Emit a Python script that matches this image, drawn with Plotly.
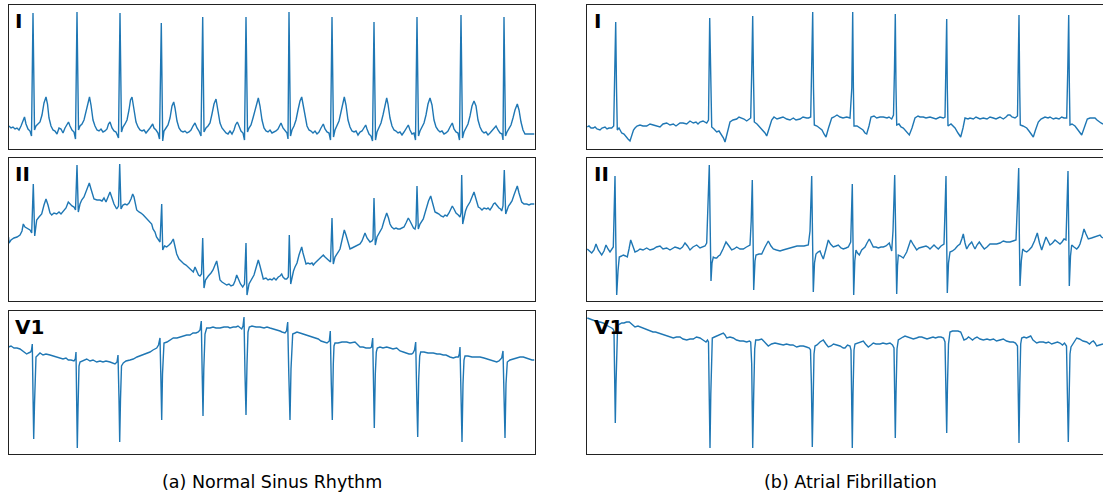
import plotly.graph_objects as go

# ECG excerpts: (sample index, amplitude in units of 10 uV)
nsr_I = [(9,22),(11,20),(13,21),(15,19),(17,20),(19,18),(21,22),(23,28),(24.5,31),(26,24),(28,19),(30,17),(31.5,12),(33,135),(34.5,18),(36,22),(38,24),(40,26),(42,33),(44,45),(46,51),(47.5,44),(49,30),(51,22),(53,18),(55,17),(57,14),(59,20),(61,19),(63,15),(65,20),(67,24),(68.5,26),(70,22),(72,18),(74,16),(75.5,9),(77,136),(78.5,18),(80,22),(82,24),(84,28),(86,36),(88,46),(89.5,51),(91,43),(93,28),(95,22),(97,18),(99,17),(101,19),(103,16),(105,17),(107,19),(108.5,24),(110,26),(112,20),(114,17),(116,16),(118.5,10),(120,135),(121.5,16),(123,21),(125,24),(127,28),(129,38),(130.5,48),(132,51),(134,40),(136,26),(138,21),(140,18),(142,17),(144,18),(146,15),(148,17),(150,20),(152.7,24),(154,20),(156,18),(158,15),(159.5,9),(161.3,125),(162.7,7),(164,17),(166,20),(168,23),(170,30),(172,42),(173.7,46),(175,40),(177,27),(179,20),(181,17),(183,16),(185,17),(187,15),(189,16),(191,18),(193,22),(195,25),(197,20),(199,17),(201,12),(202.7,131),(204,16),(206,20),(208,22),(210,25),(212,34),(214,44),(216,49),(218,38),(220,25),(222,20),(224,17),(226,15),(228,14),(230,17),(232,14),(234,18),(235.5,23),(237.3,26),(239,22),(241,17),(243,15),(244.5,8),(246,131),(247.5,16),(249,20),(251,23),(253,30),(255,38),(257,46),(258.3,50),(260,42),(262,28),(264,20),(266,17),(268,16),(270,18),(272,15),(274,16),(276,17),(278,19),(279.5,23),(281,25),(283,20),(285,17),(287,15),(288,9),(289,136),(290.5,12),(292,18),(294,22),(296,28),(298,38),(300,47),(301.7,51),(303,44),(305,30),(307,22),(309,18),(311,17),(313,15),(315,17),(317,14),(319,16),(321,20),(323.3,24),(325,19),(327,16),(329,15),(330.5,8),(332,131),(333.5,11),(335,18),(337,22),(339,27),(341,36),(343,46),(344.3,51),(346,43),(348,28),(350,21),(352,17),(354,16),(356,17),(358,13),(360,16),(362,17),(364,21),(365.7,23),(367,19),(369,14),(371,12),(372.5,7),(374,126),(375.5,8),(377,16),(379,20),(381,25),(383,33),(385,44),(386.7,50),(388,44),(390,30),(392,22),(394,18),(396,17),(398,15),(400,16),(402,13),(404,16),(406,19),(408.3,23),(410,18),(412,14),(414,15),(415.5,8),(417,131),(418.5,12),(420,17),(422,21),(424,25),(426,33),(428,44),(430,50),(432,43),(434,28),(436,21),(438,18),(440,16),(442,17),(444,14),(446,15),(448,17),(450,21),(452.3,25),(454,19),(456,16),(458,15),(459.5,8),(461,133),(462.5,10),(464,16),(466,20),(468,24),(470,32),(472,42),(474,47),(476,42),(478,28),(480,21),(482,17),(484,15),(486,16),(488,13),(490,15),(492,17),(494,19),(496,22),(498,18),(500,15),(502,14),(503,8),(504,131),(505.5,12),(507,16),(509,19),(511,23),(513,30),(515,38),(517.3,44),(519,38),(521,26),(523,18),(525,14),(528,14),(531,14),(534.5,14)]

nsr_II = [(8.5,64),(9,58),(11,61),(14,63),(17,64),(20,66),(22,70),(23.3,77),(25,74),(28,72),(30,71),(31.7,68),(33.3,117),(34.7,65),(36.7,81),(39,84),(41.7,87),(44,96),(46,102),(48,96),(50,88),(51.7,86),(54,88),(56.7,87),(59,89),(61,87),(63.3,90),(66,93),(68.3,99),(70,97),(72,95),(74,94),(75.5,91),(77,136),(78.3,89),(80,97),(81.7,101),(84,104),(86.5,110),(89.3,118),(91,112),(92.5,106),(94,102),(97,101),(100,101),(102,100),(104,103),(106,99),(108,104),(110,109),(112,103),(114,97),(116.7,92),(118.5,95),(119.7,137),(121,92),(123,96),(125,97),(127,96),(129,98),(131,102),(132.7,107),(134,104),(135.5,97),(136.7,91),(139,89),(141,88),(143.3,86),(146,83),(148,80),(150,78),(151.7,77),(153,72),(155,69),(156.5,64),(158.3,61),(160,59),(161.7,97),(162.7,51),(164.5,55),(166.7,54),(169,56),(171,58),(173.3,62),(175,55),(176.7,47),(179,42),(181.7,39),(184,37),(186,36),(188.3,34),(190,32),(192,30),(193.3,29),(195,34),(197,30),(198.5,26),(200,25),(201.5,27),(202.7,63),(204,13),(205.5,21),(207,24),(208.3,25),(211,28),(213,31),(215,36),(216.7,40),(218,33),(220,21),(222,19),(224,18),(226.7,16),(229,17),(231,15),(233.3,16),(235,20),(236.7,26),(238.5,21),(240.5,17),(242.7,14),(244.5,17),(246,58),(247,6),(249,17),(251.7,22),(254,26),(256,33),(258.3,41),(260,35),(261.5,28),(263.3,22),(266,23),(268,21),(270,22),(272,21),(274,23),(276,21),(278.3,24),(280,25),(281.7,27),(283,24),(285,22),(286.7,22),(288.3,24),(289.3,66),(290.7,17),(292,25),(293.5,30),(295,34),(297,38),(299,46),(301.7,54),(303,48),(304.5,42),(306,37),(308,38),(310,37),(312,38),(313.3,36),(315,38),(317,40),(319,41),(320,42),(321.5,44),(323.3,46),(325,44),(327,42),(329,40),(330.5,39),(332,83),(333.3,37),(335,44),(336.5,46),(338.3,49),(340,52),(342,60),(344.3,71),(346,66),(348,58),(350,52),(352,53),(354,54),(356,55),(358.3,56),(360,57),(362,60),(363.5,65),(365,68),(367,63),(368.5,61),(370,59),(372,60),(373,62),(374,103),(375.3,56),(377,64),(378.5,67),(380,69),(382,73),(384,80),(386.7,88),(388.5,83),(390,77),(391.7,74),(394,72),(396,73),(398,72),(400,72),(402,73),(404,74),(406,78),(408.3,83),(410,80),(412,75),(413.5,73),(415,72),(416,76),(417,115),(418.3,72),(420,77),(421.5,80),(423.3,82),(425,88),(427,95),(428.5,100),(430.7,105),(432,100),(433.5,93),(435,89),(437,88),(439,87),(441,85),(443.3,84),(445,86),(447,85),(449,88),(450.5,92),(452.3,95),(454,92),(456,88),(458.3,86),(460,84),(461,88),(461.7,126),(462.7,77),(464,85),(465.5,90),(467,94),(468.3,96),(470,99),(472,104),(474,109),(476,102),(477,97),(478.3,94),(480,93),(482,91),(484,93),(486.7,92),(488,93),(490,91),(492,94),(493.5,97),(495,98),(497,95),(499,93),(500.5,92),(501.7,90),(503,95),(504.3,131),(505.7,87),(507,91),(508.5,95),(510,97),(512,100),(514,106),(515.5,111),(517.3,115),(519,108),(520.5,102),(521.7,99),(524,97),(526.7,97),(529,96),(531,97),(533,97),(534.5,97)]

nsr_V1 = [(8.5,107),(11,108),(14,106),(17,106),(20,105),(23,103),(25,101),(26.7,100),(28.5,101),(30.7,102),(31.5,104),(32.3,110),(33,60),(33.7,15),(34.5,50),(35.3,90),(36,97),(38,99),(40,101),(43,99),(46,100),(50,99),(53,98),(56,97),(60,96),(63,95),(66,96),(68.3,94),(71,94),(74,93),(75.3,95),(76,102),(76.7,50),(77.3,6),(78,45),(79,88),(80,92),(83,93),(86.7,95),(90,93),(93,94),(96.7,92),(100,93),(103,92),(106,93),(110,92),(113,91),(115,90),(117,92),(118,99),(119,55),(119.7,12),(120.5,55),(121.5,88),(123.3,91),(126,93),(130,94),(133.3,95),(137,97),(140,98),(143,99),(146.7,101),(150,102),(153,104),(156.7,106),(158.5,109),(160,116),(161,70),(161.7,34),(162.5,80),(163.2,105),(164,111),(167,112),(170,114),(173.3,116),(177,116),(180,117),(183,118),(186.7,119),(190,119),(193,121),(196,121),(198.3,122),(200,124),(201.3,133),(202.2,80),(203,38),(203.8,85),(205,120),(206.7,126),(210,126),(213,127),(216,126),(220,126),(224,127),(228,127),(230,126),(233.3,127),(236,127),(238,128),(240,126),(241.7,125),(243,128),(244,137),(245,80),(246,39),(247,90),(248,122),(249.3,127),(252,128),(256,127),(260,127),(264,126),(267,127),(270,126),(274,125),(278.3,124),(280,123),(282,122),(285,121),(286.5,123),(287.7,132),(288.8,80),(290,34),(291,85),(292,115),(292.7,120),(295,121),(297,122),(300,121),(303,120),(306,119),(310,118),(313,117),(315,116),(318.3,115),(321,113),(325,112),(327,111),(329.3,113),(330.3,123),(331.3,70),(332.3,34),(333.3,90),(334,108),(335,111),(338,111),(342,112),(346.7,112),(350,111),(353,112),(355,112),(357,110),(360,107),(363,107),(366,106),(370,106),(371.5,107),(372.7,116),(373.5,70),(374.3,26),(375.3,80),(376.3,102),(377.3,106),(380,107),(383,106),(386.7,107),(390,106),(393,105),(396.7,106),(400,103),(403.3,102),(406,101),(409,100),(411.7,100),(413,101),(414.5,104),(415.7,112),(416.7,60),(417.7,17),(418.7,75),(419.7,98),(420.7,102),(424,102),(428,101),(433.3,101),(437,100),(440,100),(443.3,99),(446,99),(450,97),(453.3,96),(456,97),(458.3,97),(459.3,100),(460,107),(461,60),(462,12),(463,70),(464,94),(465,98),(468,98),(472,97),(476.7,97),(480,97),(484,96),(487,95),(490,94),(493,93),(496.7,92),(499,93),(501.7,96),(503,103),(504,60),(505,16),(506,70),(507.3,92),(510,94),(513,95),(516.7,96),(520,97),(523.3,97),(526,96),(529,95),(532,94),(534.5,94)]

af_I = [(587.3,21),(589,22),(591,20),(593.3,20),(595,21),(597,19),(600,18),(602,20),(605,21),(607,19),(609,20),(611.7,20),(613.7,22),(614.8,70),(615.7,126),(616.5,60),(617.3,18),(619,20),(621.7,15),(624,14),(626,11),(628,9),(630,7),(632,13),(633.5,18),(635,20),(637,22),(640,23),(643,22),(646.7,22),(650,24),(653.3,23),(656,22),(660,21),(663,24),(666.7,25),(670,23),(673.3,24),(676,22),(680,25),(683,25),(686.7,24),(690,27),(693.3,25),(696,26),(698,24),(700,26),(703,27),(706.7,25),(708.5,28),(709.7,130),(710.7,60),(711.7,21),(714,19),(716.7,16),(719,17),(721.7,13),(723.5,10),(725,6),(727,15),(728.5,22),(730,26),(733,28),(736.7,29),(739,31),(741.7,30),(744,29),(746.7,27),(748.5,28),(750.7,30),(751.8,80),(752.7,132),(753.5,70),(754.3,26),(757,24),(760,21),(763,18),(765,15),(766.7,12),(769,20),(771.7,28),(774,31),(777,29),(780,30),(783,31),(786.7,29),(790,28),(793.3,30),(796,28),(800,29),(803,31),(806.7,30),(808.5,30),(810.7,31),(811.8,80),(812.7,136),(813.5,60),(814.3,23),(817,22),(820,20),(822,18),(824,14),(826,11),(828.5,20),(831.7,30),(834,31),(837,33),(840,31),(843,30),(846.7,31),(850,30),(851.8,60),(852.7,136),(853.4,60),(854,22),(857,22),(860,20),(863,18),(865,15),(866.7,14),(869,22),(871,31),(874,32),(876.7,30),(880,31),(883.3,31),(887,30),(889,31),(891.7,29),(893.5,33),(894.5,80),(895.3,134),(896,60),(896.7,23),(899,24),(901,21),(903.3,20),(906,17),(909.3,13),(912,20),(915,30),(918,32),(920,31),(923.3,31),(926,30),(930,31),(933.3,30),(936,29),(940,31),(943.3,30),(945,31),(945.9,80),(946.7,129),(947.3,60),(948,22),(951,24),(955,20),(958,15),(960.7,11),(963,20),(965,30),(968,29),(970,30),(973.3,29),(976,31),(980,29),(983.3,30),(987,29),(990,31),(993.3,30),(996,29),(1000,31),(1003.3,29),(1006,31),(1008,33),(1010,33),(1012,31),(1015,30),(1017.5,32),(1018.2,80),(1019,133),(1019.7,60),(1020.3,23),(1023,22),(1026.7,20),(1029,17),(1031,14),(1033.3,11),(1035.5,18),(1038.3,26),(1041,29),(1043,30),(1045,31),(1048,30),(1050,31),(1053.3,29),(1056,30),(1059,29),(1061.7,31),(1064,30),(1066.7,30),(1067.8,80),(1068.7,133),(1069.4,60),(1070,23),(1072,24),(1075,22),(1078,18),(1080,15),(1081.7,13),(1084.5,21),(1087.3,29),(1090,30),(1092.5,30),(1095,30),(1097,28),(1099,26),(1101,25),(1103,24)]

af_II = [(587.3,52),(589.5,50),(591.7,48),(594,51),(596,57),(598.3,51),(600,48),(601.7,46),(604,50),(606,56),(608,52),(610,49),(613.3,54),(614.2,90),(615,125),(615.8,60),(616.7,6),(618,30),(619.3,44),(621.5,45),(623.3,46),(625.5,45),(627.3,44),(629,52),(630.7,61),(632.5,56),(635,49),(637.5,50),(640,52),(643,51),(646.7,53),(650,51),(653.3,52),(656.5,54),(660,55),(663,52),(666.7,53),(670,51),(675,54),(678,53),(680,52),(682.5,54),(685,58),(687.5,55),(690,51),(693,54),(696.7,56),(700,53),(703.3,54),(705,55),(706.7,58),(708.3,100),(709.3,136),(710.1,80),(711,20),(712,38),(713.3,44),(715,43),(716.7,43),(718.5,45),(720,46),(723,52),(726,59),(729,55),(731.7,51),(734,52),(736.7,54),(740,52),(743.3,52),(746.5,54),(750,56),(751.2,80),(752.3,121),(753,70),(753.7,11),(755,40),(756,46),(759,47),(761.7,47),(765,54),(768.3,60),(771,55),(773.3,52),(776.5,51),(780,50),(783,51),(786.7,52),(790,53),(793.3,54),(797,55),(800,55),(804,55),(808.3,56),(810,70),(811.7,125),(812.5,60),(813.3,9),(814.5,38),(816,47),(818,49),(820,50),(821.5,46),(823.3,42),(826,52),(828.3,61),(830.5,57),(833.3,54),(836,55),(838.3,56),(841,53),(843.3,52),(846,53),(848.3,54),(850.7,59),(851.5,90),(852.3,117),(853,60),(853.7,6),(854.8,40),(856,51),(857.5,48),(859.3,46),(861.7,51),(865,54),(867,58),(869.3,62),(871.3,58),(873.3,54),(876,54),(878.3,53),(881,54),(883.3,54),(886,55),(889.3,58),(891.7,50),(893,70),(894.7,126),(895.6,60),(896.7,7),(897.5,35),(898.3,46),(900.5,45),(903.3,43),(905,46),(906.7,49),(908.7,55),(910.7,61),(913.5,56),(916.7,51),(919,53),(921.7,54),(924,55),(926,55),(928,54),(930,52),(932,54),(934,56),(936,54),(938.3,52),(941,55),(944,57),(945,90),(946,125),(946.7,60),(947.3,8),(948.5,38),(950,49),(952.5,50),(955,52),(957.5,55),(960,57),(961.8,62),(963.3,67),(965,58),(966.7,52),(969,56),(971.7,59),(973.5,55),(975,52),(977,56),(979.3,59),(982,55),(984.3,52),(987,54),(990,57),(993,57),(996.7,57),(1000,58),(1003.3,60),(1006.5,59),(1010,59),(1013,60),(1016,61),(1017.5,100),(1018.7,133),(1019.3,70),(1020,15),(1021.3,40),(1022.7,52),(1024.5,50),(1026.7,49),(1029,51),(1031.7,54),(1034.5,60),(1037.3,68),(1039.5,58),(1041.7,51),(1044,58),(1046,64),(1048,60),(1050,56),(1052.5,58),(1055,61),(1057.5,59),(1060,57),(1062,59),(1064,62),(1066,61),(1067,95),(1068,130),(1068.7,70),(1069.3,15),(1070.5,45),(1071.7,56),(1074,54),(1076.7,52),(1078.5,54),(1080,57),(1082,64),(1084,72),(1086,67),(1088.3,62),(1091.5,63),(1095,64),(1097.5,65),(1100,66),(1101.5,64),(1103,63)]

af_V1 = [(587.3,136),(590,135),(592.5,134),(595,133),(598,132),(600,132),(603.3,131),(606,129),(608.5,128),(611.7,126),(613,125),(614,123),(614.6,80),(615.3,31),(616,70),(616.7,110),(617.5,124),(618.3,129),(620,130),(621.7,131),(624,131),(626.5,132),(629.3,132),(632,130),(635,127),(638,128),(640.5,127),(643.3,126),(646.5,125),(650,123),(653,122),(655.5,122),(658.3,121),(661,120),(664,119),(666.7,118),(670,117),(673.3,116),(676.5,117),(680,117),(683,115),(686.7,114),(690,115),(693.3,115),(696.5,117),(700,116),(703,114),(706,112),(707.5,114),(708.5,112),(709.2,60),(710,6),(710.8,60),(711.5,105),(712.3,116),(714.5,117),(716.7,118),(719,119),(721.5,120),(723.3,121),(725,119),(726.7,116),(730,117),(733.3,116),(736.5,114),(740,113),(743.3,113),(746.7,112),(749.5,113),(750.7,112),(751.7,90),(752.7,6),(753.7,60),(754.7,105),(755.7,114),(758.5,114),(761.7,115),(764.5,112),(768.3,108),(771.5,110),(775,111),(779,110),(783.3,109),(786.5,110),(790,109),(793,109),(796.7,107),(800,108),(803.3,108),(806.5,107),(809.3,106),(810.5,104),(811.4,70),(812.3,7),(813.2,60),(814,100),(815,108),(817,109),(820,112),(823.3,114),(826,110),(828.3,107),(831,108),(833.5,110),(836.7,109),(840,108),(843.3,106),(845,106),(847.5,109),(850,108),(851,104),(851.7,60),(852.3,6),(853,60),(854,104),(855,110),(858,111),(861,112),(863.3,113),(865.5,110),(868.3,107),(871,109),(873.3,111),(876,110),(880,110),(883,111),(886.5,110),(890,111),(892.5,109),(894,106),(894.7,60),(895.3,16),(896,60),(897,105),(898.3,114),(901,116),(903,117),(905,118),(908,117),(910.5,116),(913.3,115),(916.5,116),(919,117),(921.7,117),(924.5,116),(927,115),(930,116),(933,117),(935.5,116),(938.3,117),(941,117),(943.5,116),(945,112),(945.9,60),(946.7,21),(947.5,70),(948.5,110),(950,122),(952.5,123),(955,123),(958,123),(960.7,122),(962.5,118),(964,114),(966.5,115),(968.5,117),(970,116),(972.5,114),(975,116),(977,117),(980,115),(983.3,114),(987,115),(990,114),(993.5,115),(996.5,113),(1000,114),(1003.3,115),(1006.5,113),(1010,112),(1013.3,112),(1015.5,111),(1017.5,108),(1018.3,60),(1019,11),(1019.8,70),(1020.7,110),(1021.7,116),(1024,117),(1026.5,116),(1028.5,117),(1030.7,118),(1033,114),(1036.7,111),(1039.5,112),(1043.3,112),(1046,111),(1048.5,112),(1051.7,110),(1055,111),(1057.5,112),(1060,111),(1062.5,109),(1064.5,111),(1066.5,108),(1067.4,60),(1068.3,12),(1069.2,60),(1070,100),(1071,107),(1073,110),(1075,114),(1076.7,116),(1079.5,115),(1083,113),(1086.7,112),(1089.5,110),(1091.5,112),(1093.3,113),(1095,111),(1096.7,108),(1099.5,109),(1101.5,110),(1103,110)]

lead_names = ["I", "II", "V1"]
captions = ["(a) Normal Sinus Rhythm", "(b) Atrial Fibrillation"]
columns = [[nsr_I, nsr_II, nsr_V1], [af_I, af_II, af_V1]]

W, H = 1103, 492
x_dom = [[8.5 / W, 534.5 / W], [587 / W, 1.0]]
x_rng = [[8.5, 534.5], [587, 1103]]
y_dom = [[(H - 148.5) / H, (H - 5) / H],
         [(H - 301) / H, (H - 157.7) / H],
         [(H - 454) / H, (H - 310.7) / H]]
y_rng = [[-0.005, 1.43], [0.0, 1.433], [0.0, 1.433]]

fig = go.Figure()
layout = dict(width=W, height=H, margin=dict(l=0, r=0, t=0, b=0),
              paper_bgcolor="white", plot_bgcolor="white", showlegend=False,
              font=dict(family="DejaVu Sans", color="black"))
annotations = []
k = 0
for c in range(2):
    for r in range(3):
        k += 1
        s = "" if k == 1 else str(k)
        data = columns[c][r]
        xs = [p[0] for p in data]
        ys = [p[1] * 0.01 for p in data]
        fig.add_trace(go.Scatter(x=xs, y=ys, mode="lines", xaxis="x" + s, yaxis="y" + s,
                                 line=dict(color="#1f77b4", width=1.4), hoverinfo="skip"))
        layout["xaxis" + s] = dict(domain=x_dom[c], range=x_rng[c], anchor="y" + s,
                                   showline=True, mirror=True, linecolor="#222", linewidth=1,
                                   showticklabels=False, ticks="", showgrid=False, zeroline=False)
        layout["yaxis" + s] = dict(domain=y_dom[r], range=y_rng[r], anchor="x" + s,
                                   showline=True, mirror=(c == 0), linecolor="#222", linewidth=1,
                                   showticklabels=False, ticks="", showgrid=False, zeroline=False)
        annotations.append(dict(text="<b>" + lead_names[r] + "</b>", xref="x" + s + " domain",
                                yref="y" + s + " domain", x=0.0095, y=0.985, xanchor="left",
                                yanchor="top", showarrow=False,
                                font=dict(family="DejaVu Sans", size=20, color="black")))
    annotations.append(dict(text=captions[c], xref="paper", yref="paper",
                            x=(x_dom[c][0] + (x_dom[0][1] - x_dom[0][0]) / 2), y=(H - 482) / H,
                            xanchor="center", yanchor="middle", showarrow=False,
                            font=dict(family="DejaVu Sans", size=17.5, color="black")))
layout["annotations"] = annotations
fig.update_layout(**layout)
fig.write_html("out.html")
